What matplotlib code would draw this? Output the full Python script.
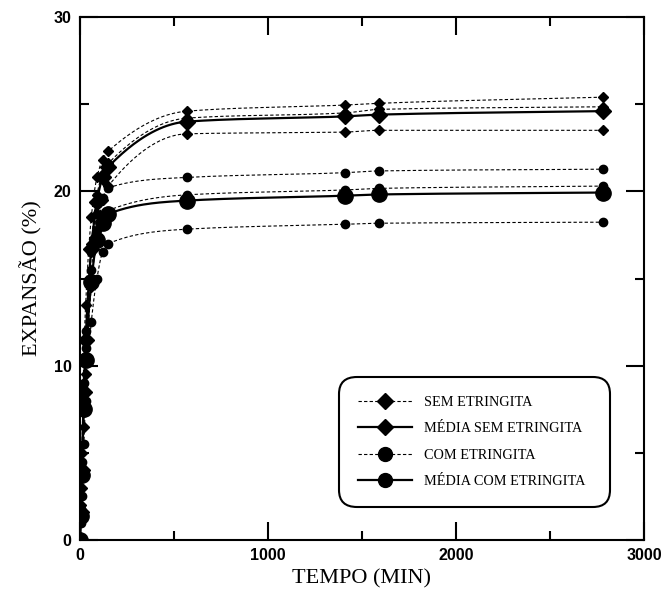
import numpy as np
import matplotlib
matplotlib.use('Agg')
import matplotlib.pyplot as plt
from matplotlib.ticker import MultipleLocator

# tempo (min)
tempo = [0, 5, 10, 20, 30, 60, 90, 120, 150, 570, 1410, 1590, 2780]

# sem etringita (3 ensaios) e media
sem_1 = [0, 2.0, 5.0, 10.5, 13.5, 18.5, 20.8, 21.8, 22.3, 24.6, 24.95, 25.05, 25.4]
sem_2 = [0, 1.5, 4.0, 8.5, 11.5, 17.0, 19.8, 21.0, 21.6, 24.2, 24.5, 24.7, 24.85]
sem_3 = [0, 1.2, 3.0, 6.5, 9.5, 14.5, 17.5, 19.5, 20.3, 23.3, 23.4, 23.5, 23.5]
media_sem = [0, 1.6, 4.0, 8.5, 11.5, 16.7, 19.4, 20.8, 21.4, 24.0, 24.3, 24.4, 24.6]

# com etringita (3 ensaios) e media
com_1 = [0, 1.8, 4.5, 9.0, 12.0, 16.5, 18.7, 19.6, 20.2, 20.8, 21.07, 21.17, 21.27]
com_2 = [0, 1.5, 4.0, 8.0, 11.0, 15.5, 17.8, 18.6, 18.9, 19.8, 20.08, 20.17, 20.3]
com_3 = [0, 1.0, 2.5, 5.5, 8.0, 12.5, 15.0, 16.5, 17.0, 17.83, 18.11, 18.17, 18.23]
media_com = [0, 1.4, 3.7, 7.5, 10.3, 14.8, 17.2, 18.2, 18.7, 19.47, 19.75, 19.82, 19.93]


def smooth(x, y):
    # curva monotona (Fritsch-Carlson) so para desenhar a linha
    x = np.asarray(x, float)
    y = np.asarray(y, float)
    h = np.diff(x)
    d = np.diff(y) / h
    m = np.zeros_like(y)
    m[0] = d[0]
    m[-1] = d[-1]
    for k in range(1, len(x) - 1):
        if d[k - 1] * d[k] <= 0:
            m[k] = 0
        else:
            w1 = 2 * h[k] + h[k - 1]
            w2 = h[k] + 2 * h[k - 1]
            m[k] = (w1 + w2) / (w1 / d[k - 1] + w2 / d[k])
    xs = np.concatenate([np.linspace(x[i], x[i + 1], 40, endpoint=False) for i in range(len(x) - 1)] + [x[-1:]])
    idx = np.clip(np.searchsorted(x, xs, side='right') - 1, 0, len(x) - 2)
    t = (xs - x[idx]) / h[idx]
    h00 = 2 * t**3 - 3 * t**2 + 1
    h10 = t**3 - 2 * t**2 + t
    h01 = -2 * t**3 + 3 * t**2
    h11 = t**3 - t**2
    ys = h00 * y[idx] + h10 * h[idx] * m[idx] + h01 * y[idx + 1] + h11 * h[idx] * m[idx + 1]
    return xs, ys


fig = plt.figure(figsize=(6.64, 5.92), dpi=100)
ax = fig.add_axes([80 / 664, 52 / 592, 564 / 664, 523 / 592])

dash = (0, (3, 2))
for s in [sem_1, sem_2, sem_3]:
    xs, ys = smooth(tempo, s)
    ax.plot(xs, ys, color='black', lw=0.8, linestyle=dash)
    ax.plot(tempo, s, 'D', color='black', ms=5)
for s in [com_1, com_2, com_3]:
    xs, ys = smooth(tempo, s)
    ax.plot(xs, ys, color='black', lw=0.8, linestyle=dash)
    ax.plot(tempo, s, 'o', color='black', ms=6)

xs, ys = smooth(tempo, media_sem)
ax.plot(xs, ys, color='black', lw=1.6)
ax.plot(tempo, media_sem, 'D', color='black', ms=8)
xs, ys = smooth(tempo, media_com)
ax.plot(xs, ys, color='black', lw=1.6)
ax.plot(tempo, media_com, 'o', color='black', ms=11)

# legenda
h1, = ax.plot([], [], color='black', lw=0.8, linestyle=dash, marker='D', ms=8)
h2, = ax.plot([], [], color='black', lw=1.6, marker='D', ms=8)
h3, = ax.plot([], [], color='black', lw=0.8, linestyle=dash, marker='o', ms=10)
h4, = ax.plot([], [], color='black', lw=1.6, marker='o', ms=10)
leg = ax.legend([h1, h2, h3, h4],
                ['SEM ETRINGITA', 'MÉDIA SEM ETRINGITA', 'COM ETRINGITA', 'MÉDIA COM ETRINGITA'],
                loc='lower left', bbox_to_anchor=(0.46, 0.063, 0.48, 0.25), mode='expand',
                borderaxespad=0, prop={'family': 'Liberation Serif', 'size': 10.3},
                handlelength=3.8, labelspacing=0.95, borderpad=1.3, fancybox=True,
                framealpha=1, edgecolor='black')
leg.get_frame().set_linewidth(1.5)
leg.get_frame().set_boxstyle('round,pad=0,rounding_size=1.2')

ax.set_xlim(0, 3000)
ax.set_ylim(0, 30)
ax.xaxis.set_major_locator(MultipleLocator(1000))
ax.xaxis.set_minor_locator(MultipleLocator(500))
ax.yaxis.set_major_locator(MultipleLocator(10))
ax.yaxis.set_minor_locator(MultipleLocator(5))
ax.tick_params(which='both', direction='in', top=True, right=True, width=1.5)
ax.tick_params(which='major', length=13, labelsize=11.5, pad=6)
ax.tick_params(which='minor', length=6.5)
for lab in ax.get_xticklabels() + ax.get_yticklabels():
    lab.set_fontfamily('Liberation Sans')
    lab.set_fontweight('bold')
for sp in ax.spines.values():
    sp.set_linewidth(1.5)

ax.set_xlabel('TEMPO (MIN)', family='Liberation Serif', fontsize=16, labelpad=4)
ax.set_ylabel('EXPANSÃO (%)', family='Liberation Serif', fontsize=16, labelpad=8)

fig.savefig('out.png', dpi=100)
